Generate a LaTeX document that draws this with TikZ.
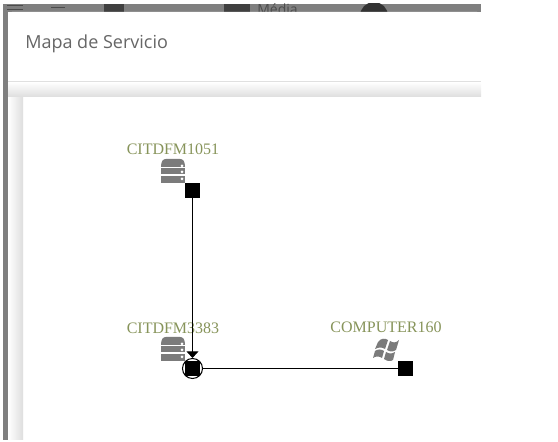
\documentclass[tikz,border=0pt]{standalone}
\usepackage{fontspec}
\setmainfont{Liberation Serif}
\newfontfamily\titlefont{Open Sans}
\usetikzlibrary{arrows.meta}
\definecolor{barGray}{HTML}{7F7F7F}
\definecolor{iconGray}{HTML}{7B7B7B}
\definecolor{hostOlive}{HTML}{87945A}
\tikzset{
  % host name above an icon
  host label/.style={text=hostOlive,font=\fontsize{12}{14}\selectfont,inner sep=0pt},
  % black square on a host
  host port/.style={fill=black,draw=none,minimum size=11pt,inner sep=0pt},
  ring port/.style={circle,draw=black,thick,minimum size=15pt,inner sep=0pt},
  link/.style={draw=black,line width=0.75pt},
  server icon/.pic={
    \fill[iconGray] (-12,-4) .. controls (-12,-10) and (-10,-12) .. (-7,-12)
      -- (7,-12) .. controls (10,-12) and (12,-10) .. (12,-4) -- cycle;
    \fill[iconGray] (-12,-3) rectangle (12,3);
    \fill[iconGray] (-12,5) rectangle (12,12);
    \foreach \yy in {-5,1,8}
      \fill[white] (9,\yy) circle (1.5);
  },
  windows icon/.pic={
    \fill[iconGray] (-9,-7) .. controls (-6,-11) and (-2,-11) .. (1,-9) -- (-2,0)
      .. controls (-5,-2) and (-8,-2) .. (-12,0) -- cycle;
    \fill[iconGray] (3,-8) .. controls (6,-6) and (9,-6) .. (12,-9) -- (9,1)
      .. controls (6,3) and (3,3) .. (0,1) -- cycle;
    \fill[iconGray] (-12,2) .. controls (-9,0) and (-6,0) .. (-3,2) -- (-5,9)
      .. controls (-8,7) and (-11,7) .. (-14,9) -- cycle;
    \fill[iconGray] (-1,3) .. controls (2,5) and (5,5) .. (8,3) -- (6,11)
      .. controls (3,13) and (0,12) .. (-3,10) -- cycle;
  },
}
\begin{document}
\begin{tikzpicture}[x=0.75pt,y=-0.75pt]
    \useasboundingbox (0,0) rectangle (558,442);
    % page behind the dialog
    \fill[barGray] (3,4) rectangle (481,12);
    \fill[barGray] (3,4) rectangle (8,440);
    \begin{scope}
    \clip (3,4) rectangle (481,12);
    \fill[black!70] (7,5) rectangle (23,6.5);
    \fill[black!70] (7,9) rectangle (23,10.5);
    \fill[black!70] (51,7) rectangle (65,8.5);
    \fill[black!75] (104,4) rectangle (124,12);
    \fill[black!75] (224,4) rectangle (250,12);
    \fill[black!80] (374,16) circle (14);
    \node[text=black!70,font=\titlefont\fontsize{10.5}{12}\selectfont,anchor=base west,inner sep=0pt] (media) at (257,15) {Média};
    \end{scope}
    % dialog
    \fill[white,rounded corners=3pt] (8,12) rectangle (481,440);
    \fill[left color=white,middle color=black!3,right color=black!13] (8,97) rectangle (23,440);
    \fill[top color=white,middle color=black!3,bottom color=black!13] (8,82) rectangle (481,97);
    \draw[black!12] (8,81) -- (481,81);
    \node[text=black!60,font=\titlefont\fontsize{13.5}{16}\selectfont,anchor=base west,inner sep=0pt] (title) at (25,48.5) {Mapa de Servicio};

    \node[host label] (citdfma) at (173,149) {CITDFM1051};
    \node[host label] (citdfmb) at (173,328) {CITDFM3383};
    \node[host label] (computer) at (386,327) {COMPUTER160};
    \pic at (173,171) {server icon};
    \pic at (173,349) {server icon};
    \pic at (387,349) {windows icon};

    \node[host port] (porta) at (192.5,190.5) {};
    \node[host port] (portb) at (192.5,368.5) {};
    \node[ring port] (ringb) at (192.5,368.5) {};
    \node[host port] (portc) at (405.5,368.5) {};

    \path[link,-{Triangle[length=5pt,width=9pt]}] (porta) -- (ringb);
    \path[link] (ringb) -- (portc);
\end{tikzpicture}
\end{document}
